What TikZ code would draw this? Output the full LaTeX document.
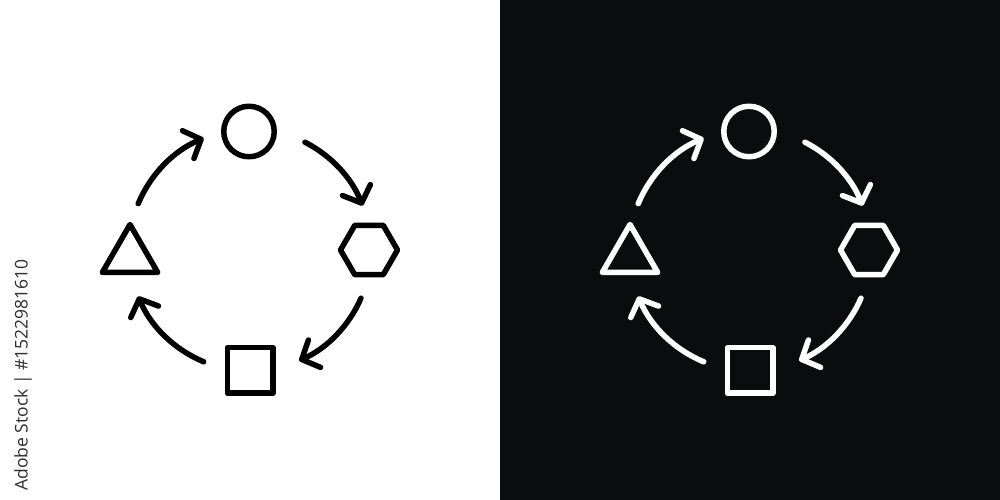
\documentclass[tikz,border=0pt]{standalone}
\usepackage{fontspec}
\newfontfamily\wmfont{Open Sans}
\usetikzlibrary{arrows.meta,shapes.geometric}
\definecolor{darkbg}{HTML}{0B0C0E}
\definecolor{wmgray}{HTML}{2E2E2E}
\tikzset{
  shp/.style={draw=#1, line width=5.5pt, line join=round, inner sep=0pt, outer sep=0pt},
  cyc/.style={draw=#1, line width=5.5pt, line cap=round,
    -{Straight Barb[round,length=14pt,width=30pt]}},
}
\begin{document}
\begin{tikzpicture}[x=1pt,y=1pt]
\fill[white] (0,0) rectangle (500,500);
\fill[darkbg] (500,0) rectangle (1000,500);
\useasboundingbox (0,0) rectangle (1000,500);
\foreach \ox/\col/\nm in {0/black/L,500/white/R}{
  \begin{scope}[xshift=\ox pt]
    \coordinate (ctr\nm) at (250,250);
    \node[shp=\col, circle, minimum size=50.5pt] (circ\nm) at (249,368.5) {};
    \node[shp=\col, regular polygon, regular polygon sides=6, minimum size=57pt] (hex\nm) at (369,250) {};
    \node[shp=\col, rectangle, minimum size=45.5pt] (sq\nm) at (250,129.5) {};
    \node[shp=\col, regular polygon, regular polygon sides=3, minimum size=64pt] (tri\nm) at (130,243.5) {};
    \draw[cyc=\col] (ctr\nm) ++(157.5:121) arc[start angle=157.5, end angle=112.5, radius=121];
    \draw[cyc=\col] (ctr\nm) ++(63:121) arc[start angle=63, end angle=21.5, radius=121];
    \draw[cyc=\col] (ctr\nm) ++(-23.5:121) arc[start angle=-23.5, end angle=-66, radius=121];
    \draw[cyc=\col] (ctr\nm) ++(247.5:121) arc[start angle=247.5, end angle=202.5, radius=121];
  \end{scope}
}
\node[rotate=90, text=wmgray, font=\wmfont\fontsize{17.5}{17.5}\selectfont, inner sep=0pt] (wm) at (23,125) {Adobe Stock | \#1522981610};
\end{tikzpicture}
\end{document}
